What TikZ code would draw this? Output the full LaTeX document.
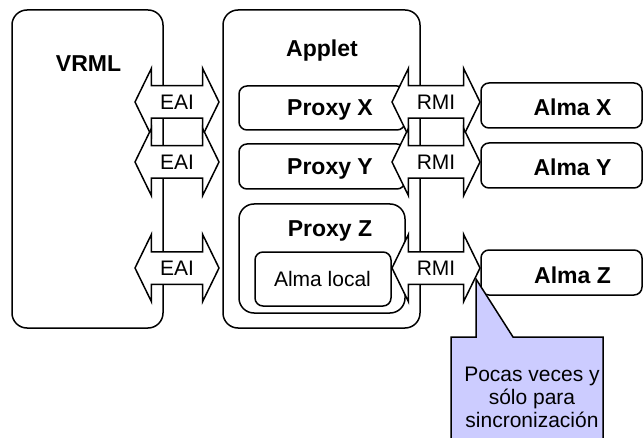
\documentclass[tikz,border=0pt]{standalone}
\usepackage{fontspec}
\setmainfont{Liberation Sans}
\usepackage{tikz}
\usetikzlibrary{shapes.arrows}
\usetikzlibrary{positioning}
\definecolor{notebg}{RGB}{204,204,255}

\tikzset{
  panel/.style={draw, line width=1.5pt, rounded corners=15pt, inner sep=0pt},
  part/.style={draw, line width=1.5pt, rounded corners=8pt, inner sep=0pt, fill=white},
  head/.style={font=\fontsize{23}{26}\selectfont\bfseries, anchor=base, inner sep=0pt},
  plain/.style={font=\fontsize{21}{23}\selectfont, anchor=base, inner sep=0pt},
  link/.style={double arrow, draw, fill=white, line width=1.5pt,
    font=\fontsize{21}{23}\selectfont, double arrow head extend=17.5pt,
    double arrow tip angle=128, minimum width=66pt, inner xsep=0pt,
    inner ysep=8pt, text height=15pt, text depth=0pt}
}

\begin{document}
\begin{tikzpicture}[x=1pt,y=-1pt]
\useasboundingbox (0,0) rectangle (644,438);

% the two big blocks
\node[panel, minimum width=151pt, minimum height=318pt] (vrml) at (87.5,169) {};
\node[panel, minimum width=197pt, minimum height=318pt] (applet) at (321.5,169) {};
\node[head] (vrmltxt) at (88.5,71.5) {VRML};
\node[head] (applettxt) at (322,57) {Applet};

% proxies inside the applet
\node[part, minimum width=166pt, minimum height=44pt] (proxyx) at (322,108) {};
\node[part, minimum width=166pt, minimum height=45pt] (proxyy) at (322,166.5) {};
\node[part, rounded corners=15pt, minimum width=166pt, minimum height=109pt] (proxyz) at (322,258.5) {};
\node[part, minimum width=136pt, minimum height=54pt] (local) at (323,279) {};
\node[head] (proxyxtxt) at (330,116) {Proxy X};
\node[head] (proxyytxt) at (330,174.5) {Proxy Y};
\node[head] (proxyztxt) at (330,236.5) {Proxy Z};
\node[plain] (localtxt) at (322.5,286.5) {Alma local};

% remote souls
\node[part, minimum width=161pt, minimum height=45pt] (almax) at (561.5,105.5) {};
\node[part, minimum width=161pt, minimum height=45pt] (almay) at (561.5,165.5) {};
\node[part, minimum width=161pt, minimum height=45pt] (almaz) at (561.5,272.5) {};
\node[head] (almaxtxt) at (572.5,116) {Alma X};
\node[head] (almaytxt) at (572.5,176) {Alma Y};
\node[head] (almaztxt) at (572.5,283) {Alma Z};

% EAI and RMI links
\node[link, minimum height=84pt] (eaix) at (177,102) {EAI};
\node[link, minimum height=84pt] (eaiy) at (177,162) {EAI};
\node[link, minimum height=84pt] (eaiz) at (177,268) {EAI};
\node[link, minimum height=88pt] (rmix) at (436,102) {RMI};
\node[link, minimum height=88pt] (rmiy) at (436,162) {RMI};
\node[link, minimum height=88pt] (rmiz) at (436,268) {RMI};

% callout
\coordinate (tip) at (476,279);
\draw[fill=notebg, line width=1.5pt] (451,337) -- (476,337) -- (tip) -- (513,337)
  -- (603,337) -- (603,445) -- (451,445) -- cycle;
\node[align=center, inner sep=0pt, font=\fontsize{21}{23}\selectfont] (note) at (532,397)
  {Pocas veces y\\sólo para\\sincronización};
\end{tikzpicture}
\end{document}
